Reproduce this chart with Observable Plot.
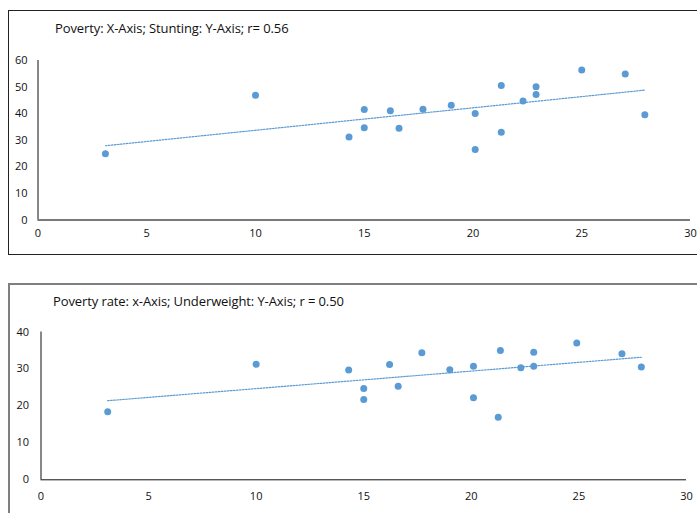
<!DOCTYPE html>
<html>
<head>
<meta charset="utf-8">
<script src="https://cdn.jsdelivr.net/npm/d3@7"></script>
<script src="https://cdn.jsdelivr.net/npm/@observablehq/plot@0.6"></script>
<style>
  html, body { margin: 0; padding: 0; background: #fff; }
  body { width: 697px; height: 513px; overflow: hidden; position: relative; font-family: "Open Sans", sans-serif; }
  .frame { position: absolute; box-sizing: border-box; }
  .title { position: absolute; font-size: 13px; line-height: 15px; color: #111; white-space: nowrap; letter-spacing: -0.1px; }
  .chart { position: absolute; left: 0; }
</style>
</head>
<body>
<div class="frame" style="left:8px; top:10px; width:710px; height:245px; border:1px solid #222;"></div>
<div class="frame" style="left:8px; top:283px; width:710px; height:260px; border:2px solid #7f7f7f;"></div>
<div class="title" style="left:55px; top:21px;">Poverty: X-Axis; Stunting: Y-Axis; r= 0.56</div>
<div class="title" style="left:53px; top:294px;">Poverty rate: x-Axis; Underweight: Y-Axis; r = 0.50</div>
<div id="c1" class="chart" style="top:0px;"></div>
<div id="c2" class="chart" style="top:284px;"></div>
<script>
// Poverty rate (%) against stunting prevalence (%)
const povertyA = [3.1, 10.0, 14.3, 15.0, 15.0, 16.2, 16.6, 17.7, 19.0, 20.1, 20.1, 21.3, 21.3, 22.3, 22.9, 22.9, 25.0, 27.0, 27.9];
const stunting = [24.9, 46.9, 31.2, 41.6, 34.7, 41.1, 34.5, 41.7, 43.2, 40.1, 26.5, 50.6, 33.0, 44.8, 50.1, 47.2, 56.4, 54.9, 39.6];

// Poverty rate (%) against underweight prevalence (%)
const povertyB = [3.1, 10.0, 14.3, 15.0, 15.0, 16.2, 16.6, 17.7, 19.0, 20.1, 20.1, 21.35, 21.25, 22.3, 22.9, 22.9, 24.9, 27.0, 27.9];
const underweight = [18.4, 31.3, 29.7, 24.7, 21.7, 31.2, 25.3, 34.4, 29.8, 30.7, 22.2, 35.0, 16.9, 30.3, 34.5, 30.7, 37.0, 34.1, 30.5];

const xTicks = [0, 5, 10, 15, 20, 25, 30];
const yTicksA = [0, 10, 20, 30, 40, 50, 60];
const yTicksB = [0, 10, 20, 30, 40];

const blue = "#5b9bd5";
const font = "'Open Sans', sans-serif";

function scatter({xs, ys, yTicks, yMax, width, height, margins, xAxisStroke, xAxisWidth, xPad, yPad}) {
  const data = xs.map((x, i) => ({x, y: ys[i]}));
  return Plot.plot({
    width, height,
    ...margins,
    style: {background: "transparent", fontFamily: font, fontSize: "11px", color: "#111", overflow: "visible"},
    x: {domain: [0, 30]},
    y: {domain: [0, yMax]},
    marks: [
      Plot.axisX({ticks: xTicks, tickSize: 0, tickPadding: xPad, fontSize: 11, label: null}),
      Plot.axisY({ticks: yTicks, tickSize: 0, tickPadding: yPad, fontSize: 11, label: null}),
      Plot.ruleX([0], {stroke: "#111", strokeWidth: 1}),
      Plot.ruleY([0], {stroke: xAxisStroke, strokeWidth: xAxisWidth}),
      Plot.linearRegressionY(data, {x: "x", y: "y", ci: 0, stroke: blue, strokeWidth: 1.2, strokeDasharray: "1.6,1.4"}),
      Plot.dot(data, {x: "x", y: "y", r: 3.5, fill: blue, stroke: "none"})
    ]
  });
}

document.getElementById("c1").append(scatter({
  xs: povertyA, ys: stunting, yTicks: yTicksA, yMax: 60,
  width: 697, height: 250,
  margins: {marginLeft: 37.5, marginRight: 7, marginTop: 60, marginBottom: 30.5},
  xAxisStroke: "#7a7a7a", xAxisWidth: 2, xPad: 9, yPad: 10.5
}));

document.getElementById("c2").append(scatter({
  xs: povertyB, ys: underweight, yTicks: yTicksB, yMax: 40,
  width: 697, height: 229,
  margins: {marginLeft: 40.5, marginRight: 11, marginTop: 47.5, marginBottom: 33.7},
  xAxisStroke: "#111", xAxisWidth: 1, xPad: 12, yPad: 12
}));
</script>
</body>
</html>
